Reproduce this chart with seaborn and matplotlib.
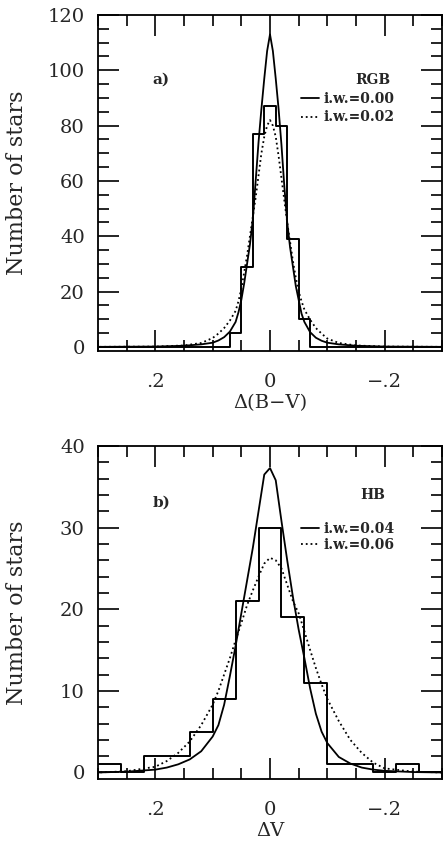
import matplotlib
matplotlib.use("Agg")
import matplotlib.pyplot as plt
from matplotlib.ticker import MultipleLocator, FixedLocator, FixedFormatter
import seaborn as sns

# ---------------------------------------------------------------------------
# Data
# ---------------------------------------------------------------------------

# panel a) RGB, Delta(B-V) histogram, bin width 0.02
bv_centers = [0.06, 0.04, 0.02, 0.00, -0.02, -0.04, -0.06]
bv_counts = [5, 29, 77, 87, 80, 39, 10]

# model curves, panel a
bv_x = [-0.30, -0.20, -0.15, -0.12, -0.10, -0.09, -0.08, -0.07, -0.06, -0.055,
        -0.05, -0.045, -0.04, -0.035, -0.03, -0.025, -0.02, -0.015, -0.01, -0.005,
        0.0, 0.005, 0.01, 0.015, 0.02, 0.025, 0.03, 0.035, 0.04, 0.045,
        0.05, 0.055, 0.06, 0.07, 0.08, 0.09, 0.10, 0.12, 0.15, 0.20, 0.30]
bv_iw000 = [0, 0.1, 0.4, 0.9, 1.5, 2.2, 3.3, 5.3, 9, 12,
            17, 22, 29, 36, 45, 58, 73, 86, 97, 107,
            113, 107, 97, 86, 74, 60, 46, 37, 30, 23,
            17, 12.5, 9, 5.5, 3.5, 2.3, 1.5, 0.9, 0.4, 0.1, 0]
bv_iw002 = [0, 0.1, 0.5, 1.4, 3.0, 4.8, 6.8, 9.8, 13.5, 16.5,
            20, 25, 31, 38, 45, 53, 61, 69, 76, 80,
            82, 80, 76, 70, 62, 54, 47, 40, 33, 27,
            21, 16.5, 13, 9.5, 6.8, 4.8, 3.2, 1.4, 0.5, 0.1, 0]

# panel b) HB, Delta V histogram, bin width 0.04
v_centers = [0.28, 0.20, 0.16, 0.12, 0.08, 0.04, 0.00, -0.04, -0.08, -0.12, -0.16, -0.24]
v_counts = [1, 2, 2, 5, 9, 21, 30, 19, 11, 1, 1, 1]

# model curves, panel b
v_x = [-0.30, -0.25, -0.20, -0.18, -0.16, -0.14, -0.12, -0.10, -0.09, -0.08,
       -0.07, -0.06, -0.05, -0.04, -0.03, -0.02, -0.01, 0.0, 0.01, 0.02,
       0.03, 0.04, 0.05, 0.06, 0.07, 0.08, 0.09, 0.10, 0.12, 0.14,
       0.16, 0.18, 0.20, 0.25, 0.30]
v_iw004 = [0, 0.05, 0.2, 0.35, 0.6, 1.1, 1.9, 3.6, 5.0, 7.2,
           10.3, 14.0, 17.5, 21.5, 26.0, 30.8, 35.8, 37.3, 36.5, 32.0,
           27.5, 23.5, 19.5, 15.5, 11.8, 8.3, 5.8, 4.4, 2.6, 1.6,
           1.0, 0.6, 0.35, 0.1, 0]
v_iw006 = [0, 0.1, 0.5, 1.2, 2.4, 4.0, 6.3, 9.0, 10.8, 12.8,
           15.0, 17.3, 19.5, 21.0, 23.0, 25.0, 26.0, 26.3, 25.6, 24.0,
           22.3, 20.5, 18.3, 16.2, 14.0, 12.0, 10.0, 8.3, 5.8, 3.8,
           2.4, 1.4, 0.7, 0.15, 0]

x_tick_vals = [0.2, 0.0, -0.2]
x_tick_text = [".2", "0", "\u2212.2"]

# ---------------------------------------------------------------------------
# Figure
# ---------------------------------------------------------------------------

sns.set_theme(style="ticks")
plt.rcParams["font.family"] = ["DejaVu Serif", "DejaVu Sans"]
plt.rcParams["mathtext.fontset"] = "dejavuserif"

fig = plt.figure(figsize=(4.44, 8.42), dpi=100)
ax_a = fig.add_axes([98 / 444, 1 - 351 / 842, 344 / 444, 336 / 842])
ax_b = fig.add_axes([98 / 444, 1 - 779 / 842, 344 / 444, 333 / 842])

legend_font = {"size": 10, "weight": "bold"}


def style_axis(ax, ymax, ymin, ymajor, yminor, xlabel):
    ax.set_xlim(0.3, -0.3)
    ax.set_ylim(ymin, ymax)
    ax.xaxis.set_major_locator(FixedLocator(x_tick_vals))
    ax.xaxis.set_major_formatter(FixedFormatter(x_tick_text))
    ax.xaxis.set_minor_locator(MultipleLocator(0.05))
    ax.yaxis.set_major_locator(MultipleLocator(ymajor))
    ax.yaxis.set_minor_locator(MultipleLocator(yminor))
    ax.tick_params(which="both", direction="in", top=True, right=True,
                   color="black", width=1.2)
    ax.tick_params(which="major", length=15)
    ax.tick_params(which="minor", length=8)
    ax.tick_params(axis="x", which="major", pad=16, labelsize=14)
    ax.tick_params(axis="y", which="major", pad=9.5, labelsize=14)
    for sp in ax.spines.values():
        sp.set_visible(True)
        sp.set_linewidth(1.3)
        sp.set_color("black")
    ax.set_xlabel(xlabel, fontsize=14, labelpad=2)
    ax.set_ylabel("Number of stars", fontsize=16)
    ax.yaxis.set_label_coords(-0.203, 0.5)
    ax.grid(False)


# --- panel a ---------------------------------------------------------------
sns.histplot(x=bv_centers, weights=bv_counts, binwidth=0.02, binrange=(-0.31, 0.31),
             element="step", fill=False, color="black", linewidth=1.4, ax=ax_a)
sns.lineplot(x=bv_x, y=bv_iw000, color="black", linewidth=1.3, estimator=None,
             label="i.w.=0.00", ax=ax_a)
sns.lineplot(x=bv_x, y=bv_iw002, color="black", linewidth=1.3, linestyle=":",
             estimator=None, label="i.w.=0.02", ax=ax_a)
style_axis(ax_a, 120, -1.5, 20, 5, "\u0394(B\u2212V)")
ax_a.text(0.19, 96.5, "a)", fontsize=11, fontweight="bold", ha="center", va="center")
ax_a.text(0.80, 0.807, "RGB", transform=ax_a.transAxes, fontsize=10,
          fontweight="bold", ha="center", va="center")
ax_a.legend(loc="upper left", bbox_to_anchor=(0.59, 0.772), frameon=False,
            prop=legend_font, handlelength=1.3, handletextpad=0.3, labelspacing=0.35,
            borderpad=0, borderaxespad=0)

# --- panel b ---------------------------------------------------------------
sns.histplot(x=v_centers, weights=v_counts, binwidth=0.04, binrange=(-0.30, 0.30),
             element="step", fill=False, color="black", linewidth=1.4, ax=ax_b)
sns.lineplot(x=v_x, y=v_iw004, color="black", linewidth=1.3, estimator=None,
             label="i.w.=0.04", ax=ax_b)
sns.lineplot(x=v_x, y=v_iw006, color="black", linewidth=1.3, linestyle=":",
             estimator=None, label="i.w.=0.06", ax=ax_b)
style_axis(ax_b, 40, -0.8, 10, 2, "\u0394V")
ax_b.text(0.19, 33, "b)", fontsize=11, fontweight="bold", ha="center", va="center")
ax_b.text(0.80, 0.853, "HB", transform=ax_b.transAxes, fontsize=10,
          fontweight="bold", ha="center", va="center")
ax_b.legend(loc="upper left", bbox_to_anchor=(0.59, 0.773), frameon=False,
            prop=legend_font, handlelength=1.3, handletextpad=0.3, labelspacing=0.15,
            borderpad=0, borderaxespad=0)

fig.savefig("out.png", dpi=100, facecolor="white")
